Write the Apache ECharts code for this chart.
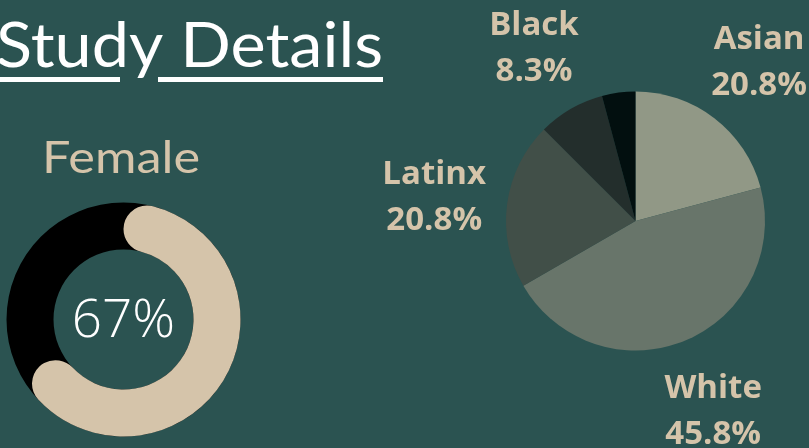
<!DOCTYPE html>
<html>
<head>
<meta charset="utf-8">
<script src="https://cdn.jsdelivr.net/npm/echarts@6/dist/echarts.min.js"></script>
<style>
html,body{margin:0;padding:0;background:#2b5351;}
#c{width:809px;height:448px;}
</style>
</head>
<body>
<div id="c"></div>
<script>
const titleText = 'Study Details';
const genderLabel = 'Female';
const femaleShare = 67;          // percent
const raceCategories = ['Asian', 'White', 'Latinx', 'Black', 'Other'];
const raceValues = [5, 11, 5, 2, 1];
const raceColors = ['#919886', '#68756a', '#414f48', '#232e2c', '#020f0f'];
const raceLabelShown = [true, true, true, true, false];

const BG = '#2b5351';
const BEIGE = '#d5c4aa';

const chart = echarts.init(document.getElementById('c'), null, {renderer: 'canvas'});

const pieCenter = [635.5, 221];
const donutCenter = [123.5, 319.5];
const raceTotal = raceValues.reduce((a, b) => a + b, 0);

const raceData = raceCategories.map((n, i) => ({
  name: n, value: raceValues[i], itemStyle: {color: raceColors[i]}
}));
const raceLabelData = raceCategories.map((n, i) => ({
  name: n, value: raceValues[i], label: {show: raceLabelShown[i]}
}));

// measure text to stretch the substitute font to the reference width
const mctx = document.createElement('canvas').getContext('2d');
function textWidth(font, txt) { mctx.font = font; return mctx.measureText(txt).width; }
const titleFont = '400 61px Lato';
const titleScale = 387 / textWidth(titleFont, titleText);
const femaleFont = '400 45px Lato';
const femaleScale = 158 / textWidth(femaleFont, genderLabel);

chart.setOption({
  backgroundColor: BG,
  animation: false,
  series: [
    {
      type: 'pie', silent: true, center: pieCenter, radius: [0, 129.5],
      startAngle: 90, clockwise: true, label: {show: false}, labelLine: {show: false},
      itemStyle: {borderWidth: 0},
      data: raceData
    },
    {
      type: 'pie', silent: true, center: pieCenter, radius: [130, 270],
      startAngle: 90, clockwise: true,
      itemStyle: {color: 'rgba(0,0,0,0)', borderWidth: 0},
      labelLine: {show: false},
      label: {
        show: true, position: 'inside',
        formatter: p => p.name + '\n' + (p.value / raceTotal * 100).toFixed(1) + '%',
        color: BEIGE, fontFamily: 'Open Sans', fontWeight: 'bold', fontSize: 33,
        lineHeight: 46, align: 'center', verticalAlign: 'middle', offset: [0, 3]
      },
      data: raceLabelData
    },
    {
      type: 'pie', silent: true, center: donutCenter, radius: [70, 117],
      label: {show: false}, labelLine: {show: false},
      itemStyle: {color: '#000000', borderWidth: 0},
      data: [{name: 'ring', value: 100}]
    },
    {
      type: 'pie', silent: true, center: donutCenter, radius: [70, 117],
      startAngle: 90, clockwise: true,
      label: {show: false}, labelLine: {show: false},
      data: [
        {name: 'Female', value: femaleShare, itemStyle: {color: BEIGE, borderRadius: 24, borderWidth: 0}},
        {name: 'Rest', value: 100 - femaleShare, itemStyle: {color: 'rgba(0,0,0,0)', borderWidth: 0}}
      ]
    }
  ],
  graphic: [
    {
      type: 'text', x: -4, y: 47, scaleX: titleScale,
      style: {text: titleText, fill: '#ffffff', font: titleFont, textAlign: 'left', textVerticalAlign: 'middle'}
    },
    {
      type: 'line', silent: true,
      shape: {x1: 0, y1: 79.5, x2: 120, y2: 79.5},
      style: {stroke: '#ffffff', lineWidth: 5}
    },
    {
      type: 'line', silent: true,
      shape: {x1: 158, y1: 79.5, x2: 383, y2: 79.5},
      style: {stroke: '#ffffff', lineWidth: 5}
    },
    {
      type: 'text', x: 121, y: 158, scaleX: femaleScale,
      style: {text: genderLabel, fill: BEIGE, font: femaleFont, textAlign: 'center', textVerticalAlign: 'middle'}
    },
    {
      type: 'text', x: 123.5, y: 322,
      style: {text: femaleShare + '%', fill: '#ffffff', font: '300 53px "Open Sans"', textAlign: 'center', textVerticalAlign: 'middle'}
    }
  ]
});
</script>
</body>
</html>
